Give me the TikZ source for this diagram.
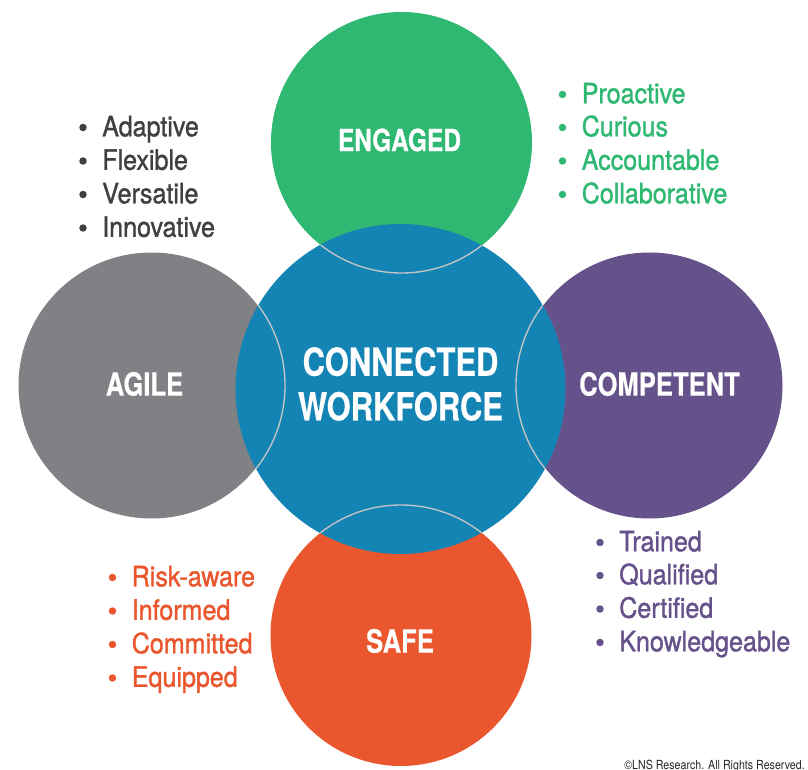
\documentclass[tikz,border=0pt]{standalone}
\usepackage{fontspec}
\setmainfont{TeX Gyre Heros}
\newfontfamily\cnbold[FakeStretch=0.80,FakeBold=0.4]{TeX Gyre Heros Bold}
\newfontfamily\cnmed[FakeStretch=0.895,FakeBold=1.2]{TeX Gyre Heros}
\newfontfamily\cnreg[FakeStretch=0.85]{TeX Gyre Heros}
\definecolor{cgreen}{HTML}{2EB872}
\definecolor{cblue}{HTML}{1484B5}
\definecolor{cgray}{HTML}{808184}
\definecolor{cpurple}{HTML}{66528B}
\definecolor{cred}{HTML}{EA572E}
\definecolor{cdark}{HTML}{404042}
\definecolor{cring}{HTML}{C4C6C6}
\tikzset{
  disc/.style={circle,inner sep=0pt,outer sep=0pt,minimum size=#1},
  title/.style={text=white,font=\cnbold\fontsize{23pt}{24pt}\selectfont,inner sep=0pt,align=center},
  bigtitle/.style={title,font=\cnbold\fontsize{24pt}{24pt}\selectfont},
  item/.style={anchor=base west,inner sep=0pt,font=\cnmed\fontsize{21pt}{22pt}\selectfont},
  dot/.style={circle,inner sep=0pt,minimum size=5.6pt},
  ring/.style={draw=cring,line width=1pt}
}
\newcommand{\listitem}[5]{% name, colour, x, y centre, text
  \node[dot,fill=#2] (d#1) at (#3-1,#4) {};
  \node[item,text=#2] (t#1) at (#3+18,#4+8.8) {#5};
}
\begin{document}
\begin{tikzpicture}[x=0.75pt,y=-0.75pt]
\useasboundingbox (0,0) rectangle (808,770);
\fill[white] (0,0) rectangle (808,770);
\node[disc=195.75pt,fill=cgreen] (eng) at (401.5,142.5) {};
\node[disc=195.75pt,fill=cred] (saf) at (401,635.5) {};
\node[disc=199.5pt,fill=cgray] (agi) at (151.5,385.5) {};
\node[disc=199.5pt,fill=cpurple] (com) at (649.5,385.5) {};
\node[disc=247.5pt,fill=cblue] (cen) at (400.5,389) {};
\begin{scope}
\clip (400.5,389) circle [radius=165];
\draw[ring] (401.5,142.5) circle [radius=130.5];
\draw[ring] (401,635.5) circle [radius=130.5];
\draw[ring] (151.5,385.5) circle [radius=133.5];
\draw[ring] (649.5,385.5) circle [radius=133.5];
\end{scope}
\node[title] (teng) at (399.5,140) {ENGAGED};
\node[bigtitle] (tagi) at (144.5,384) {AGILE};
\node[bigtitle] (tcom) at (659.5,384) {COMPETENT};
\node[bigtitle] (tsaf) at (400,641) {SAFE};
\node[title,font=\cnbold\fontsize{29pt}{33.5pt}\selectfont] (tcen) at (400.5,384) {CONNECTED\\WORKFORCE};
\listitem{a}{cdark}{84}{127.5}{Adaptive}
\listitem{b}{cdark}{84}{161}{Flexible}
\listitem{c}{cdark}{84}{194.5}{Versatile}
\listitem{d}{cdark}{84}{228}{Innovative}
\listitem{e}{cgreen}{563.5}{94.5}{Proactive}
\listitem{f}{cgreen}{563.5}{127.5}{Curious}
\listitem{g}{cgreen}{563.5}{161}{Accountable}
\listitem{h}{cgreen}{563.5}{194.5}{Collaborative}
\listitem{i}{cpurple}{601}{542.5}{Trained}
\listitem{j}{cpurple}{601}{575.5}{Qualified}
\listitem{k}{cpurple}{601}{609}{Certified}
\listitem{l}{cpurple}{601}{642.5}{Knowledgeable}
\listitem{m}{cred}{113.5}{577.5}{Risk-aware}
\listitem{n}{cred}{113.5}{611}{Informed}
\listitem{o}{cred}{113.5}{644.5}{Committed}
\listitem{p}{cred}{113.5}{678}{Equipped}
\node[anchor=base east,inner sep=0pt,text=black!85,font=\cnreg\fontsize{9.4pt}{10pt}\selectfont] (copy) at (805,769) {©LNS Research. All Rights Reserved.};
\end{tikzpicture}
\end{document}
